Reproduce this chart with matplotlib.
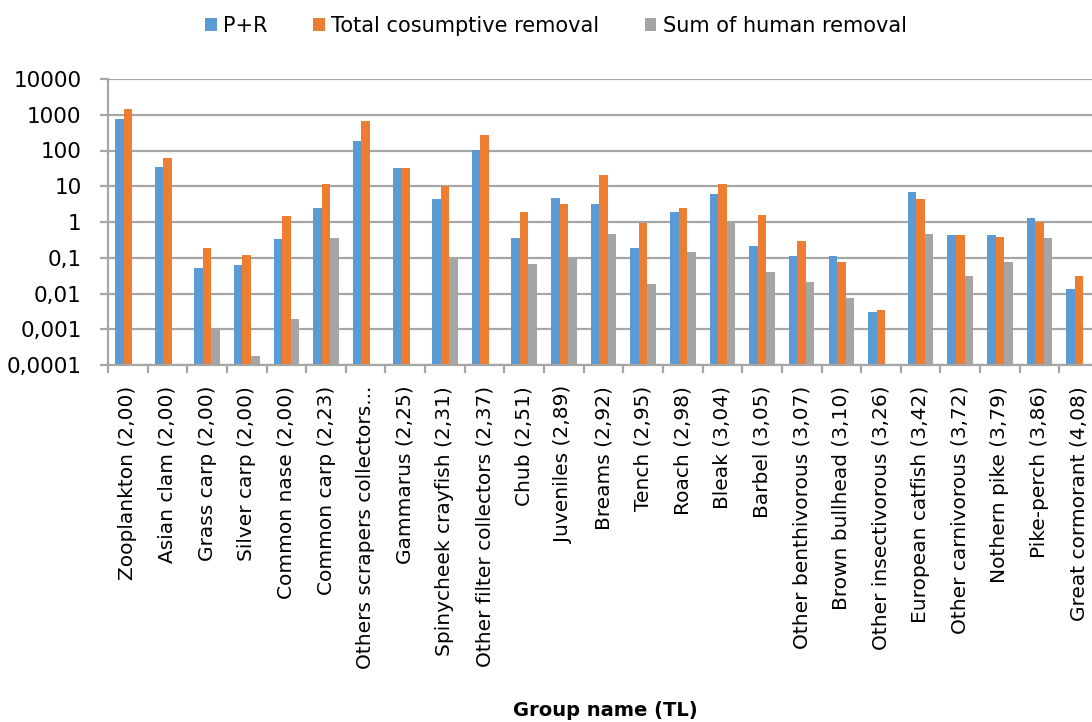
import numpy as np
import matplotlib
matplotlib.use('Agg')
import matplotlib.pyplot as plt
from matplotlib.ticker import FixedLocator, FixedFormatter, NullLocator

plt.rcParams['font.family'] = ['DejaVu Sans']

groups = ["Zooplankton (2,00)", "Asian clam (2,00)", "Grass carp (2,00)", "Silver carp (2,00)",
          "Common nase (2,00)", "Common carp (2,23)", "Others scrapers collectors...",
          "Gammarus (2,25)", "Spinycheek crayfish (2,31)", "Other filter collectors (2,37)",
          "Chub (2,51)", "Juveniles (2,89)", "Breams (2,92)", "Tench (2,95)", "Roach (2,98)",
          "Bleak (3,04)", "Barbel (3,05)", "Other benthivorous (3,07)", "Brown bullhead (3,10)",
          "Other insectivorous (3,26)", "European catfish (3,42)", "Other carnivorous (3,72)",
          "Nothern pike (3,79)", "Pike-perch (3,86)", "Great cormorant (4,08)"]

pr = [750, 34, 0.053, 0.062, 0.33, 2.5, 185, 33, 4.3, 105, 0.36, 4.8, 3.25, 0.19, 1.94,
      6.2, 0.22, 0.114, 0.114, 0.0031, 7.0, 0.42, 0.42, 1.32, 0.013]
total_removal = [1420, 63, 0.19, 0.117, 1.5, 11.8, 650, 33, 10, 266, 1.94, 3.25, 20, 0.96, 2.5,
                 11.8, 1.54, 0.29, 0.078, 0.0035, 4.3, 0.42, 0.37, 1.0, 0.031]
human_removal = [np.nan, np.nan, 0.00093, 0.00018, 0.0019, 0.36, np.nan, np.nan, 0.1, np.nan,
                 0.068, 0.1, 0.47, 0.019, 0.148, 1.0, 0.041, 0.021, 0.0076, np.nan, 0.47,
                 0.031, 0.078, 0.36, np.nan]

ytick_vals = [0.0001, 0.001, 0.01, 0.1, 1, 10, 100, 1000, 10000]
ytick_labels = ["0,0001", "0,001", "0,01", "0,1", "1", "10", "100", "1000", "10000"]

blue = '#5B9BD5'
orange = '#ED7D31'
grey = '#A5A5A5'
line_grey = '#a6a6a6'

fig = plt.figure(figsize=(10.92, 7.22), dpi=100)
ax = fig.add_axes([108 / 1092, 1 - 365 / 722, 991 / 1092, 286 / 722])

x = np.arange(len(groups))
w = 0.215
ax.bar(x - w, pr, w, color=blue, label='P+R')
ax.bar(x, total_removal, w, color=orange, label='Total cosumptive removal')
ax.bar(x + w, human_removal, w, color=grey, label='Sum of human removal')

ax.set_yscale('log')
ax.set_ylim(0.0001, 10000)
ax.set_xlim(-0.5, len(groups) - 0.5)
ax.yaxis.set_major_locator(FixedLocator(ytick_vals))
ax.yaxis.set_major_formatter(FixedFormatter(ytick_labels))
ax.yaxis.set_minor_locator(NullLocator())
ax.tick_params(axis='y', length=6, width=1.6, color=line_grey, labelsize=15.5, pad=13)
ax.grid(axis='y', color=line_grey, linewidth=1.6)
ax.set_axisbelow(True)

ax.set_xticks(x)
ax.set_xticklabels(groups, rotation=90, fontsize=14.5, va='top')
ax.tick_params(axis='x', length=0, pad=15)
ax.set_xticks(np.arange(len(groups) + 1) - 0.5, minor=True)
ax.tick_params(axis='x', which='minor', length=6, color=line_grey, width=1.6)

for side in ['top', 'right']:
    ax.spines[side].set_visible(False)
for side in ['left', 'bottom']:
    ax.spines[side].set_color(line_grey)
    ax.spines[side].set_linewidth(1.6)

fig.text(605 / 1092, 1 - 711 / 722, 'Group name (TL)', ha='center', va='center',
         fontsize=14, fontweight='bold')

fig.legend(loc='center', bbox_to_anchor=(556 / 1092, 1 - 26 / 722), ncol=3, frameon=False,
           fontsize=15, handlelength=0.55, handleheight=0.55, handletextpad=0.3,
           columnspacing=2.2)

fig.savefig('out.png', dpi=100)
